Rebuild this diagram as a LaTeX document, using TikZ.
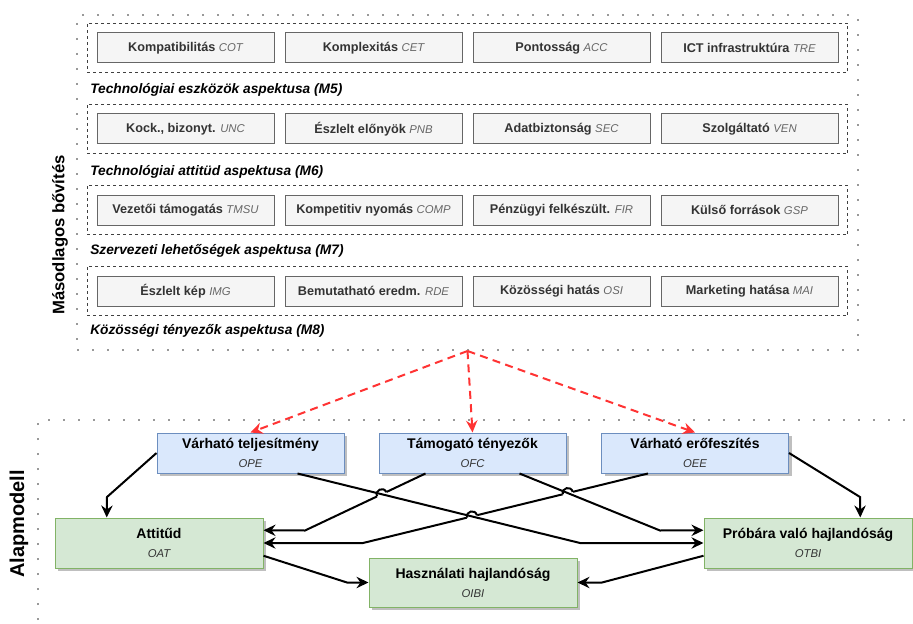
\documentclass[tikz,border=0pt]{standalone}
\usepackage{fontspec}
\setmainfont{Liberation Sans}
\usepackage{xcolor}
\definecolor{boxBack}  {HTML}{F5F5F5}
\definecolor{boxLine}  {HTML}{666666}
\definecolor{boxText}  {HTML}{333333}
\definecolor{blueBack} {HTML}{DAE8FC}
\definecolor{blueLine} {HTML}{6C8EBF}
\definecolor{greenBack}{HTML}{D5E8D4}
\definecolor{greenLine}{HTML}{82B366}
\definecolor{extRed}   {HTML}{FF3333}
\definecolor{dotGray}  {HTML}{999999}
\usetikzlibrary{arrows.meta, positioning, calc, fit, shadows, intersections}
\pgfdeclarelayer{front}
\pgfsetlayers{main,front}
\newcommand{\abbr}[1]{{\mdseries\itshape\fontsize{8.5}{10}\selectfont\color{boxLine}#1}}
\newcommand{\code}[1]{{\itshape\fontsize{8.5}{10}\selectfont\color{boxText}#1}}
\tikzset{
    factorbox/.style={rectangle, draw=boxLine, fill=boxBack, line width=0.75pt,
                      minimum width=132.75pt, minimum height=22.5pt, inner sep=0pt,
                      font=\bfseries\fontsize{9.5}{11}\selectfont, text=boxText},
    aspectbox/.style={rectangle, draw=black!75, line width=0.75pt,
                      dash pattern=on 2.25pt off 2.25pt, inner sep=7pt},
    aspectlabel/.style={anchor=west, inner sep=0pt,
                        font=\bfseries\itshape\fontsize{10.3}{12}\selectfont},
    regionframe/.style={draw=dotGray, line width=1.5pt, dash pattern=on 1.5pt off 9.75pt},
    regionlabel/.style={rotate=90, inner sep=0pt, font=\bfseries\fontsize{12.5}{14}\selectfont},
    construct/.style={rectangle, line width=0.75pt, align=center, inner sep=0pt,
                      font=\fontsize{10.5}{14.25}\selectfont,
                      drop shadow={shadow xshift=2.25pt, shadow yshift=-2.25pt,
                                   fill=black, opacity=0.25}},
    cblue/.style={construct, draw=blueLine, fill=blueBack,
                  minimum width=140.25pt, minimum height=30pt},
    cgreen/.style={construct, draw=greenLine, fill=greenBack,
                   minimum width=156pt, minimum height=37.5pt},
    flowline/.style={line width=1.5pt},
    flow/.style={flowline, -{Stealth[length=9pt, width=8.5pt, inset=3pt]}},
    extarrow/.style={-{Stealth[length=9pt, width=8.5pt, inset=3pt]}, line width=1.5pt,
                     extRed, dash pattern=on 6pt off 4pt},
}

\begin{document}
\begin{tikzpicture}[x=0.75pt, y=-0.75pt]
    \useasboundingbox (0,0) rectangle (913,624);

    % secondary extension
    \node[factorbox] (cot) at (185.5,48) {Kompatibilitás \abbr{COT}};
    \node[factorbox, right=7.5pt of cot] (cet) {Komplexitás \abbr{CET}};
    \node[factorbox, right=7.5pt of cet] (acc) {Pontosság \abbr{ACC}};
    \node[factorbox, right=7.5pt of acc] (tre) {ICT infrastruktúra \abbr{TRE}};
    \node[factorbox, below=37.5pt of cot] (unc) {Kock., bizonyt. \abbr{UNC}};
    \node[factorbox, right=7.5pt of unc] (pnb) {Észlelt előnyök \abbr{PNB}};
    \node[factorbox, right=7.5pt of pnb] (sec) {Adatbiztonság \abbr{SEC}};
    \node[factorbox, right=7.5pt of sec] (ven) {Szolgáltató \abbr{VEN}};
    \node[factorbox, below=37.5pt of unc] (tmsu) {Vezetői támogatás \abbr{TMSU}};
    \node[factorbox, right=7.5pt of tmsu] (comp) {Kompetitiv nyomás \abbr{COMP}};
    \node[factorbox, right=7.5pt of comp] (fir) {Pénzügyi felkészült. \abbr{FIR}};
    \node[factorbox, right=7.5pt of fir] (gsp) {Külső források \abbr{GSP}};
    \node[factorbox, below=37.5pt of tmsu] (img) {Észlelt kép \abbr{IMG}};
    \node[factorbox, right=7.5pt of img] (rde) {Bemutatható eredm. \abbr{RDE}};
    \node[factorbox, right=7.5pt of rde] (osi) {Közösségi hatás \abbr{OSI}};
    \node[factorbox, right=7.5pt of osi] (mai) {Marketing hatása \abbr{MAI}};

    \node[aspectbox, fit=(cot)(tre)] (m5) {};
    \node[aspectbox, fit=(unc)(ven)] (m6) {};
    \node[aspectbox, fit=(tmsu)(gsp)] (m7) {};
    \node[aspectbox, fit=(img)(mai)] (m8) {};
    \node[aspectlabel] at ([xshift=2.5pt, yshift=-12.5pt]m5.south west) {Technológiai eszközök aspektusa (M5)};
    \node[aspectlabel] at ([xshift=2.5pt, yshift=-13pt]m6.south west) {Technológiai attitüd aspektusa (M6)};
    \node[aspectlabel] at ([xshift=2.5pt, yshift=-11.5pt]m7.south west) {Szervezeti lehetőségek aspektusa (M7)};
    \node[aspectlabel] at ([xshift=2.5pt, yshift=-11pt]m8.south west) {Közösségi tényezők aspektusa (M8)};

    \node[regionframe, fit={(77,15) (858,350)}, inner sep=0pt] (ext) {};
    \node[regionlabel] at (60,235) {Másodlagos bővítés};

    % base model
    \draw[regionframe] (38,650) |- (940,420);
    \node[regionlabel, font=\bfseries\fontsize{15}{17}\selectfont] at (19,524) {Alapmodell};

    \node[cblue] (ope) at (250.5,453) {\textbf{Várható teljesítmény}\\\code{OPE}};
    \node[cblue] (ofc) at (472.5,453) {\textbf{Támogató tényezők}\\\code{OFC}};
    \node[cblue] (oee) at (695,453) {\textbf{Várható erőfeszítés}\\\code{OEE}};
    \node[cgreen] (oat) at (159,543) {\textbf{Attitűd}\\\code{OAT}};
    \node[cgreen] (otbi) at (808,543) {\textbf{Próbára való hajlandóság}\\\code{OTBI}};
    \node[cgreen, minimum height=36.75pt] (oibi) at (473,582.5) {\textbf{Használati hajlandóság}\\\code{OIBI}};

    \draw[extarrow] (ext.south) -- (ope.north);
    \draw[extarrow] (ext.south) -- (ofc.north);
    \draw[extarrow] (ext.south) -- (oee.north);

    \draw[flow] (ope.west) -- (107,497) -- ($(oat.north west)!.25!(oat.north east)$);
    \draw[flow] (oee.east) -- (860,497) -- ($(otbi.north west)!.75!(otbi.north east)$);
    \draw[flow] ($(oat.north east)!.75!(oat.south east)$) -- (347,582.5) -- (oibi.west);
    \draw[flow] ($(otbi.north west)!.75!(otbi.south west)$) -- (602,582.5) -- (oibi.east);

    % lines that jump
    \draw[flow, name path=ofcoat] ($(ofc.south west)!.25!(ofc.south east)$) coordinate (ofcs)
        -- (305,530.5) coordinate (k1) -- ($(oat.north east)!.25!(oat.south east)$);
    \draw[flow, name path=oeeoat] ($(oee.south west)!.25!(oee.south east)$) coordinate (oees)
        -- (363,543) coordinate (k2) -- (oat.east);

    % lines that are jumped over
    \begin{pgfonlayer}{front}
    \draw[flow, name path global=opeotbi] ($(ope.south west)!.75!(ope.south east)$)
        -- (580,543) -- (otbi.west);
    \draw[flow, name path global=ofcotbi] ($(ofc.south west)!.75!(ofc.south east)$)
        -- (660,530.5) -- ($(otbi.north west)!.25!(otbi.south west)$);
    \end{pgfonlayer}

    \path[name intersections={of=ofcoat and opeotbi, by=j1}];
    \path[name intersections={of=oeeoat and opeotbi, by=j2}];
    \path[name intersections={of=oeeoat and ofcotbi, by=j3}];
    \fill[white] (j1) circle (4.2pt) (j2) circle (4.2pt) (j3) circle (4.2pt);
    \draw[flowline] ($(j1)!3.8pt!(k1)$) to[bend left=90, looseness=1.7] ($(j1)!3.8pt!(ofcs)$);
    \draw[flowline] ($(j2)!3.8pt!(k2)$) to[bend left=90, looseness=1.7] ($(j2)!3.8pt!(oees)$);
    \draw[flowline] ($(j3)!3.8pt!(k2)$) to[bend left=90, looseness=1.7] ($(j3)!3.8pt!(oees)$);
\end{tikzpicture}
\end{document}
